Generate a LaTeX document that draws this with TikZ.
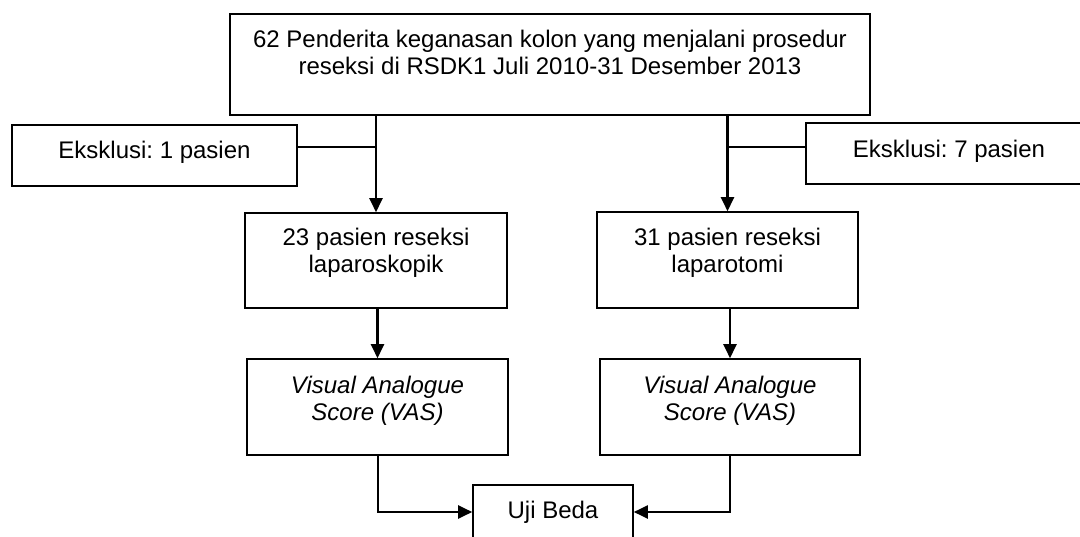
\documentclass[tikz,border=0pt]{standalone}
\usepackage{fontspec}
\setmainfont{Liberation Sans}
\usetikzlibrary{arrows.meta}
\newcommand\padd[1]{\rule[-#1pt]{0pt}{0pt}}
\begin{document}
\frenchspacing
\begin{tikzpicture}[x=1pt,y=-1pt,
  box/.style={draw=black, line width=1.6pt, rectangle, align=center,
    font=\fontsize{24}{27}\selectfont\frenchspacing, inner sep=0pt},
  arr/.style={line width=2.4pt, -{Triangle[length=14pt,width=13pt]}},
  arrlow/.style={line width=2pt, -{Triangle[length=14pt,width=13pt]}},
  link/.style={line width=1.5pt}]
\useasboundingbox (0,0) rectangle (1080,536);

\node[box, minimum width=640pt, minimum height=101pt] (top) at (550,64.5)
  {62 Penderita keganasan kolon yang menjalani prosedur\\reseksi di RSDK1 Juli 2010-31 Desember 2013\padd{25.2}};
\node[box, minimum width=285pt, minimum height=61pt] (excl1) at (154.5,155.5)
  {Eksklusi: 1 pasien\padd{12.2}};
\node[box, minimum width=286pt, minimum height=61pt] (excl7) at (949,153.5)
  {Eksklusi: 7 pasien\padd{10.2}};
\node[box, minimum width=262pt, minimum height=95pt] (lap) at (376,260.5)
  {23 pasien reseksi\\laparoskopik\padd{20.2}};
\node[box, minimum width=261pt, minimum height=96pt] (lpt) at (727.5,260)
  {31 pasien reseksi\\laparotomi\padd{20.2}};
\node[box, minimum width=261pt, minimum height=96pt] (vasA) at (377.5,407)
  {\itshape Visual Analogue\\\itshape Score (VAS)\padd{18.2}};
\node[box, minimum width=260pt, minimum height=96pt] (vasB) at (730,407)
  {\itshape Visual Analogue\\\itshape Score (VAS)\padd{18.2}};
\node[box, minimum width=160pt, minimum height=54pt] (uji) at (553,512)
  {Uji Beda};

\draw[arr] (top.south -| lap.north) -- (lap.north);
\draw[arr] (top.south -| lpt.north) -- (lpt.north);
\draw[link] ([yshift=8.5pt]excl1.east) -- ([yshift=8.5pt]excl1.east -| lap.north);
\draw[link] ([yshift=6.5pt]excl7.west) -- ([yshift=6.5pt]excl7.west -| lpt.north);
\draw[arr] (lap.south -| vasA.north) -- (vasA.north);
\draw[arr] (lpt.south -| vasB.north) -- (vasB.north);
\draw[arrlow] (vasA.south) |- (uji.west);
\draw[arrlow] (vasB.south) |- (uji.east);
\end{tikzpicture}
\end{document}
